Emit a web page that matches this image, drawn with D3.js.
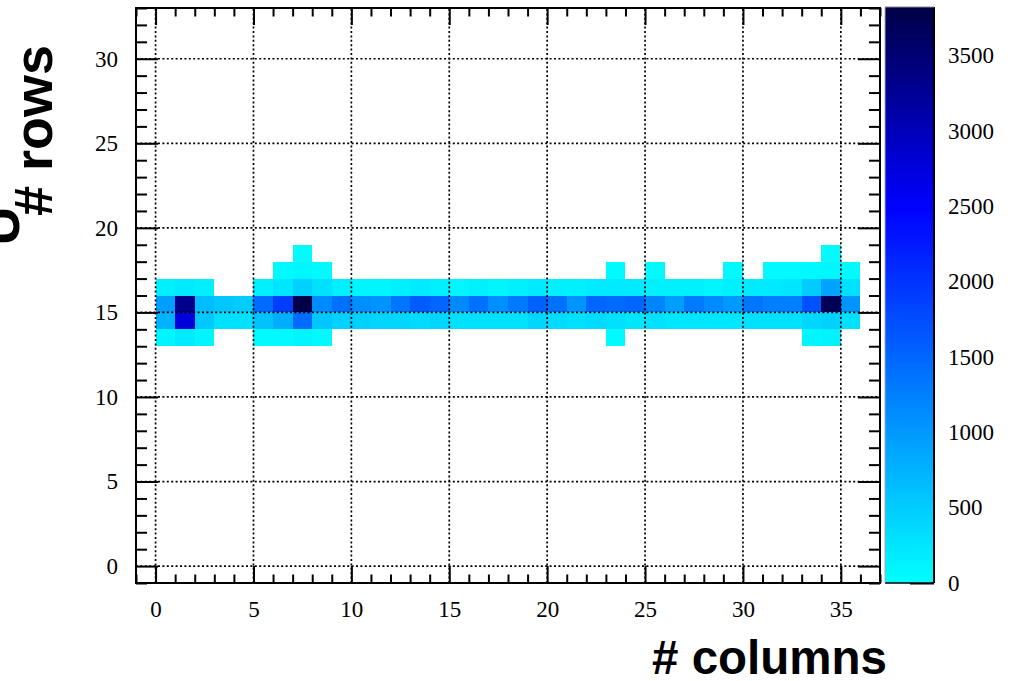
<!DOCTYPE html>
<html>
<head>
<meta charset="utf-8">
<script src="https://cdn.jsdelivr.net/npm/d3@7"></script>
<style>
  html, body { margin: 0; padding: 0; background: #fff; overflow: hidden; }
  svg { display: block; }
</style>
</head>
<body>
<svg id="chart" width="1014" height="681"></svg>
<script>
// ---------------- data ----------------
const columns = d3.range(0, 36);               // column bins [i, i+1]
const rowBins = [13, 14, 15, 16, 17, 18];      // row bins [r, r+1]
const _ = null;
const row13 = [100,200,100,_,_,50,50,100,50,_,_,_,_,_,_,_,_,_,_,_,_,_,_,50,_,_,_,_,_,_,_,_,_,80,120,_];
const row14 = [750,2750,550,300,300,600,800,1450,550,450,450,400,400,350,400,300,300,300,300,400,350,300,350,300,250,300,250,250,250,250,300,300,300,400,450,300];
const row15 = [950,3320,650,550,500,1450,1900,3800,1150,1400,1100,1050,1350,1600,1500,1150,1400,1100,1300,1550,1400,1050,1500,1450,1500,1200,950,1300,1150,1000,1350,1250,1250,1700,3700,1050];
const row16 = [150,200,150,_,_,150,250,450,300,150,100,100,150,200,150,100,150,100,150,200,150,150,200,200,200,150,150,150,100,150,200,200,250,500,900,300];
const row17 = [_,_,_,_,_,_,50,80,50,_,_,_,_,_,_,_,_,_,_,_,_,_,_,50,_,50,_,_,_,50,_,50,50,60,80,50];
const row18 = [_,_,_,_,_,_,_,30,_,_,_,_,_,_,_,_,_,_,_,_,_,_,_,_,_,_,_,_,_,_,_,_,_,_,30,_];
const rowValues = [row13, row14, row15, row16, row17, row18];

const xTicks = [0, 5, 10, 15, 20, 25, 30, 35];
const yTicks = [0, 5, 10, 15, 20, 25, 30];
const zTicks = [0, 500, 1000, 1500, 2000, 2500, 3000, 3500];
const zMax = 3820;
const colorStopValues = [0, 2500, zMax];
const colorStopColors = ["#00ffff", "#0000ff", "#000046"];
const xTitle = "# columns";
const yTitle = "# rows";

// ---------------- layout ----------------
const svg = d3.select("#chart");
const fx0 = 136, fx1 = 880, fy0 = 8, fy1 = 583;
const x = d3.scaleLinear().domain([-1, 37]).range([fx0, fx1]);
const y = d3.scaleLinear().domain([-1, 33]).range([fy1, fy0]);
const color = d3.scaleLinear().domain(colorStopValues).range(colorStopColors).clamp(true);

const cells = [];
rowBins.forEach((r, ri) => {
  rowValues[ri].forEach((v, ci) => {
    if (v !== null) cells.push({ c: columns[ci], r: r, v: v });
  });
});

// cells
svg.append("g").selectAll("rect").data(cells).join("rect")
  .attr("x", d => x(d.c))
  .attr("y", d => y(d.r + 1))
  .attr("width", d => x(d.c + 1) - x(d.c))
  .attr("height", d => y(d.r) - y(d.r + 1))
  .attr("fill", d => color(d.v))
  .attr("shape-rendering", "crispEdges");

// grid (dotted)
const grid = svg.append("g").attr("stroke", "#000").attr("stroke-width", 1.7)
  .attr("stroke-dasharray", "2,2.4").attr("fill", "none");
xTicks.forEach(t => grid.append("line")
  .attr("x1", x(t)).attr("x2", x(t)).attr("y1", fy1).attr("y2", fy0));
yTicks.forEach(t => grid.append("line")
  .attr("y1", y(t)).attr("y2", y(t)).attr("x1", fx0).attr("x2", fx1));

// axes with ROOT-like inside ticks
const tickFont = "'Liberation Serif', 'Times New Roman', serif";
const axes = svg.append("g");

function drawAxis(axisGen, transform) {
  const g = axes.append("g").attr("transform", transform).call(axisGen);
  g.select(".domain").remove();
  g.selectAll("line").attr("stroke", "#000").attr("stroke-width", 2);
  return g;
}
const xMinor = d3.range(-1, 38).filter(v => v % 5 !== 0);
const yMinor = d3.range(-1, 34).filter(v => v % 5 !== 0);
let g;
// bottom
g = drawAxis(d3.axisBottom(x).tickValues(xTicks).tickSizeInner(-17).tickSizeOuter(0).tickFormat(d3.format("d")), `translate(0,${fy1})`);
g.selectAll("text").attr("font-family", tickFont).attr("font-size", 23).attr("fill", "#000").attr("dy", "0.71em").attr("y", 18);
drawAxis(d3.axisBottom(x).tickValues(xMinor).tickSizeInner(-8.5).tickSizeOuter(0).tickFormat(""), `translate(0,${fy1})`);
// top
drawAxis(d3.axisTop(x).tickValues(xTicks).tickSizeInner(-17).tickSizeOuter(0).tickFormat(""), `translate(0,${fy0})`);
drawAxis(d3.axisTop(x).tickValues(xMinor).tickSizeInner(-8.5).tickSizeOuter(0).tickFormat(""), `translate(0,${fy0})`);
// left
g = drawAxis(d3.axisLeft(y).tickValues(yTicks).tickSizeInner(-22).tickSizeOuter(0).tickFormat(d3.format("d")), `translate(${fx0},0)`);
g.selectAll("text").attr("font-family", tickFont).attr("font-size", 23).attr("fill", "#000").attr("x", -18);
drawAxis(d3.axisLeft(y).tickValues(yMinor).tickSizeInner(-11).tickSizeOuter(0).tickFormat(""), `translate(${fx0},0)`);
// right
drawAxis(d3.axisRight(y).tickValues(yTicks).tickSizeInner(-22).tickSizeOuter(0).tickFormat(""), `translate(${fx1},0)`);
drawAxis(d3.axisRight(y).tickValues(yMinor).tickSizeInner(-11).tickSizeOuter(0).tickFormat(""), `translate(${fx1},0)`);

// frame
svg.append("rect").attr("x", fx0).attr("y", fy0).attr("width", fx1 - fx0).attr("height", fy1 - fy0)
  .attr("fill", "none").attr("stroke", "#000").attr("stroke-width", 2);

// colour bar
const cbx0 = 885, cbx1 = 934;
const z = d3.scaleLinear().domain([0, zMax]).range([fy1, fy0 - 1]);
const defs = svg.append("defs");
const grad = defs.append("linearGradient").attr("id", "cbgrad")
  .attr("x1", 0).attr("y1", 1).attr("x2", 0).attr("y2", 0);
d3.range(0, 21).forEach(i => {
  const v = zMax * i / 20;
  grad.append("stop").attr("offset", i / 20).attr("stop-color", color(v));
});
svg.append("rect").attr("x", cbx0).attr("y", z(zMax)).attr("width", cbx1 - cbx0)
  .attr("height", z(0) - z(zMax)).attr("fill", "url(#cbgrad)");
svg.append("line").attr("x1", cbx1).attr("x2", cbx1).attr("y1", z(zMax)).attr("y2", z(0))
  .attr("stroke", "#000").attr("stroke-width", 2);
svg.append("line").attr("x1", cbx0).attr("x2", cbx1).attr("y1", z(0)).attr("y2", z(0))
  .attr("stroke", "#000").attr("stroke-width", 1.5);
svg.append("line").attr("x1", cbx0).attr("x2", cbx1).attr("y1", z(zMax)).attr("y2", z(zMax))
  .attr("stroke", "#888").attr("stroke-width", 1);
svg.append("line").attr("x1", cbx0).attr("x2", cbx0).attr("y1", z(zMax)).attr("y2", z(0))
  .attr("stroke", "#aaa").attr("stroke-width", 1);
g = drawAxis(d3.axisRight(z).tickValues(zTicks).tickSizeInner(-24).tickSizeOuter(0).tickFormat(d3.format("d")), `translate(${cbx1},0)`);
g.selectAll("text").attr("font-family", tickFont).attr("font-size", 23).attr("fill", "#000").attr("x", 14);

// titles
const titleFont = "'Liberation Sans', Arial, Helvetica, sans-serif";
svg.append("text").attr("x", 887).attr("y", 674).attr("text-anchor", "end")
  .attr("font-family", titleFont).attr("font-weight", "bold").attr("font-size", 47.5)
  .attr("fill", "#000").text(xTitle);
svg.append("text").attr("transform", "translate(52,45) rotate(-90)").attr("text-anchor", "end")
  .attr("font-family", titleFont).attr("font-weight", "bold").attr("font-size", 54)
  .attr("fill", "#000").text(yTitle);
// clipped glyph at the far left edge
svg.append("text").attr("transform", "translate(19,226) rotate(-90)").attr("text-anchor", "middle")
  .attr("font-family", titleFont).attr("font-weight", "bold").attr("font-size", 54)
  .attr("fill", "#000").text("U");
</script>
</body>
</html>
